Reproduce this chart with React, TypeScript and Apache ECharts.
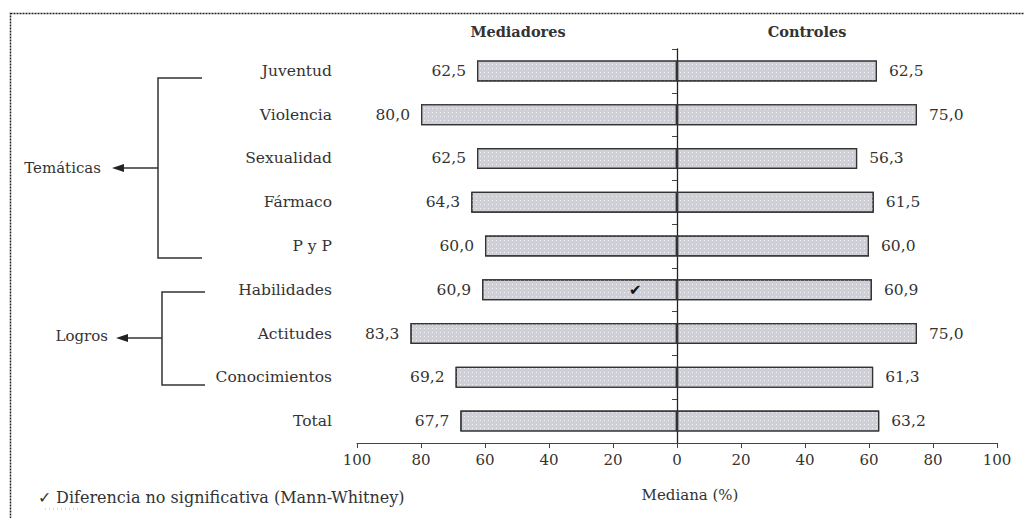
import React, { useEffect, useRef } from "react";
import * as echarts from "echarts";

const categories = [
  "Juventud",
  "Violencia",
  "Sexualidad",
  "Fármaco",
  "P y P",
  "Habilidades",
  "Actitudes",
  "Conocimientos",
  "Total",
];
const mediadores = [62.5, 80.0, 62.5, 64.3, 60.0, 60.9, 83.3, 69.2, 67.7];
const controles = [62.5, 75.0, 56.3, 61.5, 60.0, 60.9, 75.0, 61.3, 63.2];
const xTicks = [-100, -80, -60, -40, -20, 0, 20, 40, 60, 80, 100];
const nonSignificant = [{ category: "Habilidades", x: -13 }];

const SERIF = "DejaVu Serif";
const fmt = (v: number) => Math.abs(v).toFixed(1).replace(".", ",");

export default function App() {
  const ref = useRef<HTMLDivElement>(null);
  useEffect(() => {
    if (!ref.current) return;
    const chart = echarts.init(ref.current, null, { renderer: "svg" });
    const barStyle = {
      color: "#cfcfd7",
      borderColor: "#333",
      borderWidth: 1.2,
      decal: {
        symbol: "rect",
        symbolSize: 1,
        color: "rgba(255,255,255,0.75)",
        dashArrayX: [1, 3],
        dashArrayY: [1, 3],
        rotation: 0,
      },
    };
    const labelStyle = {
      show: true,
      fontFamily: SERIF,
      fontSize: 15.5,
      color: "#333",
      formatter: (p: any) => fmt(p.value),
    };
    const txt = (text: string, x: number, y: number, align: string, size = 15, weight = "normal") => ({
      type: "text",
      x,
      y,
      style: {
        text,
        fontFamily: SERIF,
        fontSize: size,
        fontWeight: weight,
        fill: "#333",
        align,
        verticalAlign: "middle",
      },
    });
    chart.setOption({
      animation: false,
      grid: { left: 357, right: 27, top: 49, bottom: 75 },
      xAxis: {
        type: "value",
        min: xTicks[0],
        max: xTicks[xTicks.length - 1],
        interval: 20,
        axisLine: { show: true, lineStyle: { color: "#444", width: 1 } },
        axisTick: { show: true, length: 5, lineStyle: { color: "#444" } },
        splitLine: { show: false },
        axisLabel: {
          fontFamily: SERIF,
          fontSize: 15,
          color: "#333",
          margin: 9,
          formatter: (v: number) => String(Math.abs(v)),
        },
        name: "Mediana (%)",
        nameLocation: "middle",
        nameGap: 44,
        nameTextStyle: {
          fontFamily: SERIF,
          fontSize: 15,
          color: "#333",
          padding: [0, 0, 0, 26],
        },
      },
      yAxis: [
        {
          type: "category",
          data: categories,
          inverse: true,
          axisLine: { show: true, onZero: true, lineStyle: { color: "#222", width: 1.3 } },
          axisTick: { show: true, length: 5, lineStyle: { color: "#444" } },
          axisLabel: { show: false },
          splitLine: { show: false },
        },
        {
          type: "category",
          data: categories,
          inverse: true,
          position: "left",
          offset: 0,
          axisLine: { show: false },
          axisTick: { show: false },
          axisLabel: {
            fontFamily: SERIF,
            fontSize: 15.5,
            color: "#333",
            margin: 25,
          },
          splitLine: { show: false },
        },
      ],
      series: [
        {
          name: "Mediadores",
          type: "bar",
          yAxisIndex: 0,
          data: mediadores.map((v) => -v),
          barWidth: 21,
          barGap: "-100%",
          itemStyle: barStyle,
          label: { ...labelStyle, position: "left", distance: 11 },
          markPoint: {
            symbol: "circle",
            symbolSize: 1,
            itemStyle: { color: "transparent" },
            label: {
              show: true,
              position: "inside",
              formatter: "✔",
              fontSize: 15,
              color: "#111",
              fontFamily: "DejaVu Sans",
            },
            data: nonSignificant.map((d) => ({ coord: [d.x, d.category] })),
          },
        },
        {
          name: "Controles",
          type: "bar",
          yAxisIndex: 0,
          data: controles,
          barWidth: 21,
          barGap: "-100%",
          itemStyle: barStyle,
          label: { ...labelStyle, position: "right", distance: 12 },
        },
      ],
      graphic: [
        {
          type: "rect",
          shape: { x: 10.5, y: 13.5, width: 1040, height: 540 },
          style: { fill: "none", stroke: "#222", lineWidth: 1.5, lineDash: [2, 1] },
          silent: true,
        },
        txt("Mediadores", 518, 31, "center", 14.5, "bold"),
        txt("Controles", 807, 31, "center", 14.5, "bold"),
        {
          type: "polyline",
          shape: { points: [[202, 78], [158, 78], [158, 258], [202, 258]] },
          style: { stroke: "#333", lineWidth: 1.5, fill: "none" },
        },
        {
          type: "line",
          shape: { x1: 158, y1: 168, x2: 120, y2: 168 },
          style: { stroke: "#333", lineWidth: 1.5 },
        },
        {
          type: "polygon",
          shape: { points: [[112, 168], [124, 164], [124, 172]] },
          style: { fill: "#222" },
        },
        txt("Temáticas", 101, 168, "right"),
        {
          type: "polyline",
          shape: { points: [[205, 292], [162, 292], [162, 385], [205, 385]] },
          style: { stroke: "#333", lineWidth: 1.5, fill: "none" },
        },
        {
          type: "line",
          shape: { x1: 162, y1: 338, x2: 124, y2: 338 },
          style: { stroke: "#333", lineWidth: 1.5 },
        },
        {
          type: "polygon",
          shape: { points: [[116, 338], [128, 334], [128, 342]] },
          style: { fill: "#222" },
        },
        txt("Logros", 108, 336, "right"),
        txt("✓ Diferencia no significativa (Mann-Whitney)", 38, 497, "left", 16),
        {
          type: "line",
          shape: { x1: 45, y1: 509, x2: 85, y2: 509 },
          style: { stroke: "#bbb", lineWidth: 1, lineDash: [1, 3] },
        },
      ],
    });
    return () => chart.dispose();
  }, []);
  return (
    <div
      ref={ref}
      style={{ position: "fixed", left: 0, top: 0, width: 1024, height: 518, background: "#fff" }}
    />
  );
}
